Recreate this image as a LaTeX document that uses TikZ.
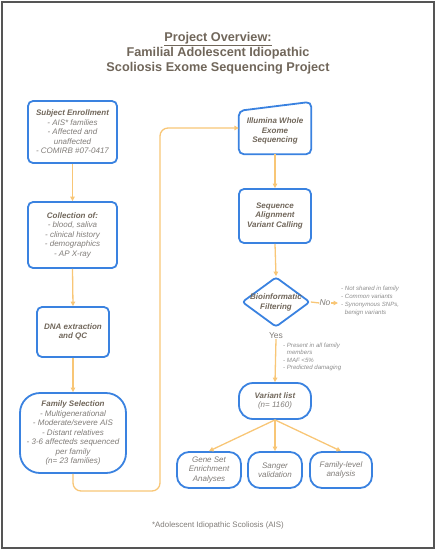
\documentclass[tikz,border=0pt]{standalone}
\usepackage{fontspec}
\setmainfont{Liberation Sans}
\usetikzlibrary{shapes.geometric,arrows.meta}
\definecolor{boxblue}{RGB}{58,130,224}
\definecolor{conn}{RGB}{248,198,118}
\definecolor{titlec}{RGB}{112,102,90}
\definecolor{itemc}{RGB}{128,124,120}
\definecolor{smallc}{RGB}{140,140,140}
\definecolor{framec}{RGB}{85,85,85}
\newcommand{\bt}[1]{{\bfseries\itshape #1}}
\begin{document}
\begin{tikzpicture}[x=1pt,y=-1pt,
  box/.style={draw=boxblue, line width=1.8pt, rounded corners=5pt, inner sep=0pt, align=center,
     text=itemc, font=\fontsize{8}{9.5}\selectfont\itshape},
  pill/.style={box, rounded corners=14pt},
  conline/.style={draw=conn, line width=1.3pt},
  conarrow/.style={conline, -{Triangle[length=4.5pt,width=4.5pt]}},
  plain/.style={inner sep=0pt, align=center}
]
\useasboundingbox (0,0) rectangle (436,550);
\draw[framec, line width=1.5pt] (2,2) rectangle (434,548);

\node[plain, text=titlec, font=\fontsize{12.7}{15}\selectfont\bfseries] (title) at (218,53)
  {\underline{Project Overview:}\\Familial Adolescent Idiopathic\\Scoliosis Exome Sequencing Project};

\node[box, minimum width=89pt, minimum height=62pt] (enroll) at (72.5,132)
  {\textcolor{titlec}{\bt{Subject Enrollment}}\\- AIS* families\\- Affected and\\unaffected\\- COMIRB \#07-0417};
\node[box, minimum width=89pt, minimum height=66pt] (collect) at (72.5,235)
  {\textcolor{titlec}{\bt{Collection of:}}\\- blood, saliva\\- clinical history\\- demographics\\- AP X-ray};
\node[box, minimum width=72pt, minimum height=50pt] (dna) at (73,332)
  {\textcolor{titlec}{\bt{DNA extraction}}\\\textcolor{titlec}{\bt{and QC}}};
\node[box, rounded corners=20pt, minimum width=106pt, minimum height=80pt] (family) at (73,433)
  {\textcolor{titlec}{\bt{Family Selection}}\\- Multigenerational\\- Moderate/severe AIS\\- Distant relatives\\- 3-6 affecteds sequenced\\per family\\(n= 23 families)};

% Illumina (manual input shape)
\node[plain, minimum width=72pt, minimum height=52pt] (ill) at (275,128) {};
\draw[boxblue, line width=1.8pt, rounded corners=5pt]
  (ill.south west) -- (ill.south east) -- (ill.north east) -- ([yshift=-9pt]ill.north west) -- cycle;
\node[plain, font=\fontsize{8}{9.5}\selectfont, text=titlec] (illtext) at (275,131)
  {\bt{Illumina Whole}\\\bt{Exome}\\\bt{Sequencing}};

\node[box, minimum width=72pt, minimum height=54pt] (align) at (275,216)
  {\textcolor{titlec}{\bt{Sequence}}\\\textcolor{titlec}{\bt{Alignment}}\\\textcolor{titlec}{\bt{Variant Calling}}};

\node[diamond, draw=boxblue, line width=1.8pt, rounded corners=3pt, minimum width=68pt, minimum height=50pt, inner sep=0pt] (filt) at (276,302) {};
\node[plain, font=\fontsize{8}{10}\selectfont, text=titlec] (filttext) at (276,302)
  {\bt{Bioinformatic}\\\bt{Filtering}};

\node[plain, font=\fontsize{8.5}{10}\selectfont\itshape, text=itemc] (no) at (325,303) {No};
\coordinate (noend) at (338,303);
\draw[conline] (filt.east) -- (no.west);
\draw[conarrow] (no.east) -- (noend);
\node[plain, anchor=west, align=left, font=\fontsize{6.1}{8}\selectfont\itshape, text=smallc] (nolist) at (341,301)
  {- Not shared in family\\- Common variants\\- Synonymous SNPs,\\\hphantom{- }benign variants};

\node[plain, font=\fontsize{8.5}{10}\selectfont, text=itemc] (yes) at (276,336) {Yes};
\node[plain, anchor=west, align=left, font=\fontsize{6.1}{7.3}\selectfont\itshape, text=smallc] (yeslist) at (283,357)
  {- Present in all family\\\hphantom{- }members\\- MAF <5\%\\- Predicted damaging};

\node[pill, minimum width=72pt, minimum height=36pt] (variant) at (275,401)
  {\textcolor{titlec}{\bt{Variant list}}\\(n= 1160)};

\node[pill, rounded corners=12pt, minimum width=64pt, minimum height=36pt] (gene) at (209,470)
  {Gene Set\\Enrichment\\Analyses};
\node[pill, rounded corners=12pt, minimum width=54pt, minimum height=36pt] (sanger) at (275,470)
  {Sanger\\validation};
\node[pill, rounded corners=12pt, minimum width=62pt, minimum height=36pt] (famlev) at (341,470)
  {Family-level\\analysis};

\node[plain, font=\fontsize{7.9}{9}\selectfont, text=itemc] (foot) at (218,525)
  {*Adolescent Idiopathic Scoliosis (AIS)};

% connectors
\draw[conarrow] (enroll.south) -- (collect.north);
\draw[conarrow] (collect.south) -- (dna.north);
\draw[conarrow] (dna.south) -- (family.north);
\draw[conarrow, rounded corners=8pt] (family.south) -- (73,491) -- (160,491) -- (160,128) -- (ill.west);
\draw[conarrow] (ill.south) -- (align.north);
\draw[conarrow] (align.south) -- (filt.north);
\draw[conarrow] (yes.south) -- (variant.north);
\draw[conarrow] (variant.south) -- (gene.north);
\draw[conarrow] (variant.south) -- (sanger.north);
\draw[conarrow] (variant.south) -- (famlev.north);
\end{tikzpicture}
\end{document}
